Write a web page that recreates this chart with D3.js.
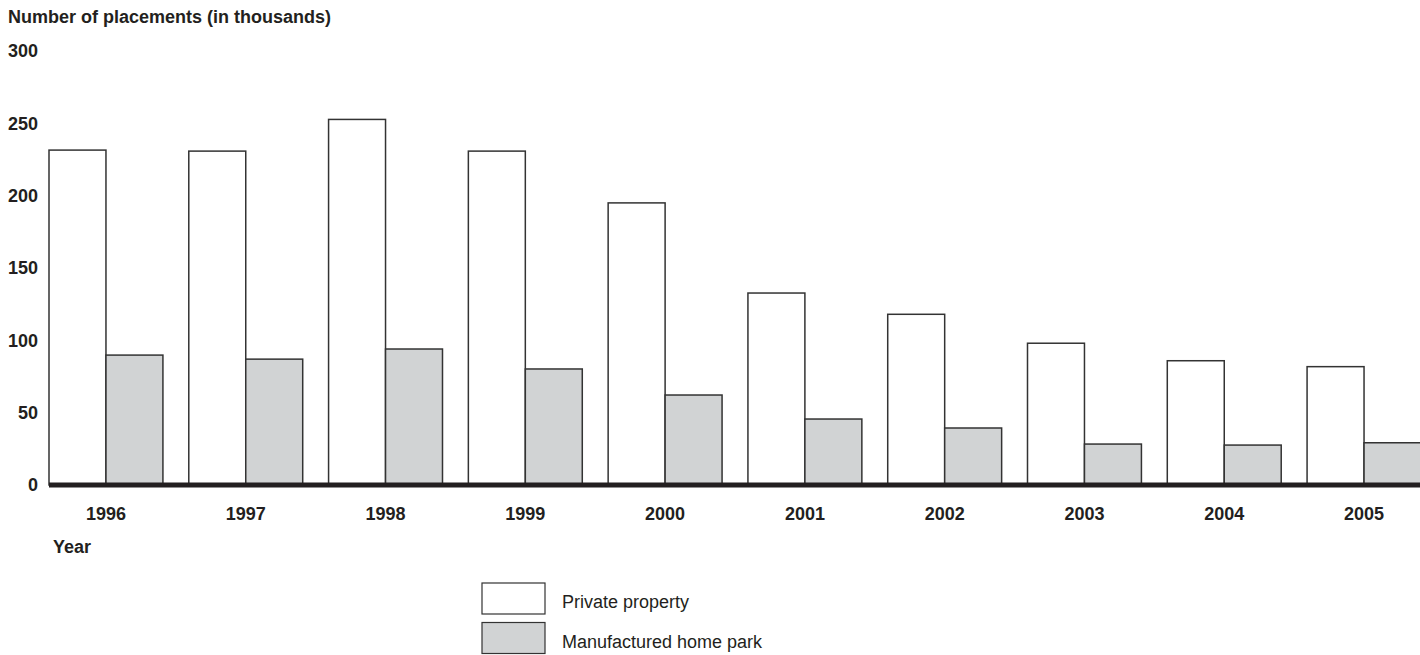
<!DOCTYPE html>
<html>
<head>
<meta charset="utf-8">
<script src="https://cdn.jsdelivr.net/npm/d3@7"></script>
<style>
  body { margin: 0; background: #fff; }
  svg { display: block; font-family: "Liberation Sans", Arial, Helvetica, sans-serif; }
  .tick text { font-weight: bold; font-size: 18px; fill: #231f20; }
</style>
</head>
<body>
<div id="app"></div>
<script>
const years = ['1996', '1997', '1998', '1999', '2000', '2001', '2002', '2003', '2004', '2005'];
const seriesNames = ['Private property', 'Manufactured home park'];
const privateProperty = [231.5, 230.8, 252.7, 230.8, 195, 132.7, 118, 98, 85.9, 81.8];
const homePark = [89.8, 87, 94, 80.2, 62.2, 45.6, 39.4, 28.3, 27.6, 29.2];
const yTicks = [0, 50, 100, 150, 200, 250, 300];
const seriesColors = ['#ffffff', '#d1d3d4'];

const w = 1420;
const h = 655;

const svg = d3.select('#app')
  .append('svg')
  .attr('width', w)
  .attr('height', h);

const data = years.map((y, i) => ({ year: y, values: [privateProperty[i], homePark[i]] }));

/////////SCALES//////////
const xScale = d3.scaleBand()
  .domain(years)
  .range([49, 1421])
  .paddingInner(0.185)
  .paddingOuter(0);

const xInner = d3.scaleBand()
  .domain([0, 1])
  .range([0, xScale.bandwidth()]);

const yScale = d3.scaleLinear()
  .domain([0, 300])
  .range([485, 51]);

/////////AXES//////////
const yAxis = d3.axisLeft(yScale).tickValues(yTicks).tickSize(0).tickPadding(0);

svg.append('g')
  .attr('transform', 'translate(38,0)')
  .call(yAxis)
  .call(g => g.select('.domain').remove());

svg.append('text')
  .attr('x', 8)
  .attr('y', 23)
  .style('font-weight', 'bold')
  .style('font-size', '18px')
  .style('fill', '#231f20')
  .text('Number of placements (in thousands)');

//////////BARS//////////
const groups = svg.selectAll('.group')
  .data(data)
  .enter()
  .append('g')
  .attr('class', 'group')
  .attr('transform', (d) => 'translate(' + xScale(d.year) + ',0)');

groups.selectAll('rect')
  .data((d) => d.values.map((v, k) => ({ k: k, v: v })))
  .enter()
  .append('rect')
  .attr('x', (d) => xInner(d.k))
  .attr('y', (d) => yScale(d.v))
  .attr('width', xInner.bandwidth())
  .attr('height', (d) => yScale(0) - yScale(d.v))
  .style('fill', (d) => seriesColors[d.k])
  .style('stroke', '#333')
  .style('stroke-width', 1.5);

// baseline
svg.append('line')
  .attr('x1', xScale.range()[0])
  .attr('x2', w)
  .attr('y1', yScale(0))
  .attr('y2', yScale(0))
  .style('stroke', '#231f20')
  .style('stroke-width', 5);

const xAxis = d3.axisBottom(xScale).tickSize(0).tickPadding(0);

svg.append('g')
  .attr('transform', 'translate(0,' + (yScale(0) + 22) + ')')
  .call(xAxis)
  .call(g => g.select('.domain').remove());

svg.append('text')
  .attr('x', 53)
  .attr('y', 553)
  .style('font-weight', 'bold')
  .style('font-size', '18px')
  .style('fill', '#231f20')
  .text('Year');

//////////LEGEND//////////
const legend = svg.selectAll('.legend')
  .data(seriesNames)
  .enter()
  .append('g')
  .attr('class', 'legend')
  .attr('transform', (d, i) => 'translate(482,' + (583 + i * 39.5) + ')');

legend.append('rect')
  .attr('width', 63)
  .attr('height', 31)
  .style('fill', (d, i) => seriesColors[i])
  .style('stroke', '#333')
  .style('stroke-width', 1.2);

legend.append('text')
  .attr('x', 80)
  .attr('y', 25)
  .style('font-size', '18px')
  .style('fill', '#231f20')
  .text((d) => d);
</script>
</body>
</html>
